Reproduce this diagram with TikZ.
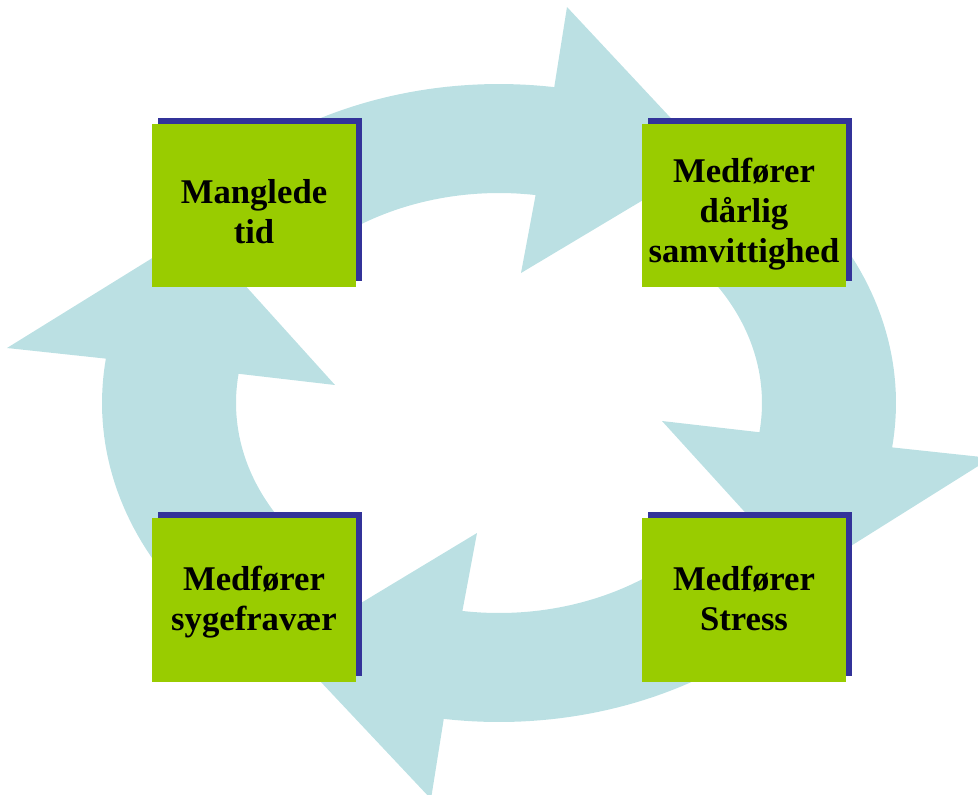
\documentclass[tikz,border=0pt]{standalone}
\usepackage{fontspec}
\setmainfont{Liberation Serif}
\usepackage{tikz}
\usetikzlibrary{shadows}
\definecolor{ringblue}{HTML}{BBE0E3}
\definecolor{boxgreen}{HTML}{99CC00}
\definecolor{boxshadow}{HTML}{333399}

\begin{document}
\begin{tikzpicture}[x=0.75pt,y=-0.75pt,
  stepbox/.style={fill=boxgreen,minimum width=153pt,minimum height=122.5pt,inner sep=0pt,
    general shadow={fill=boxshadow,shadow xshift=4.5pt,shadow yshift=4.5pt}},
  boxtext/.style={align=center,inner sep=0pt,font=\fontsize{26}{30}\selectfont\bfseries,
    execute at begin node=\strut,execute at end node=\strut}]
\useasboundingbox (0,0) rectangle (978,794);
\clip (0,0) rectangle (978,794);
% ring of arrows, clockwise
\fill[ringblue] plot[domain=223:278,samples=40]({499+397*cos(\x)},{403+319*sin(\x)})
  -- (567,7) -- (710,160) -- (521,273)
  -- plot[domain=278:223,samples=40]({499+263*cos(\x)},{403+210*sin(\x)}) -- cycle;
\fill[ringblue] plot[domain=313:368,samples=40]({499+397*cos(\x)},{403+319*sin(\x)})
  -- (991,458) -- (803,576) -- (662,421)
  -- plot[domain=368:313,samples=40]({499+263*cos(\x)},{403+210*sin(\x)}) -- cycle;
\fill[ringblue] plot[domain=43:98,samples=40]({499+397*cos(\x)},{403+319*sin(\x)})
  -- (431,799) -- (288,647) -- (477,533)
  -- plot[domain=98:43,samples=40]({499+263*cos(\x)},{403+210*sin(\x)}) -- cycle;
\fill[ringblue] plot[domain=133:188,samples=40]({499+397*cos(\x)},{403+319*sin(\x)})
  -- (7,348) -- (196,231) -- (335,385)
  -- plot[domain=188:133,samples=40]({499+263*cos(\x)},{403+210*sin(\x)}) -- cycle;
% boxes
\node[stepbox,label={[boxtext,yshift=-9pt]center:Manglede\\tid}] (tid) at (254,205.5) {};
\node[stepbox,label={[boxtext,yshift=-7.8pt]center:Medfører\\dårlig\\samvittighed}] (samvit) at (744,205.5) {};
\node[stepbox,label={[boxtext,yshift=-3pt]center:Medfører\\Stress}] (stress) at (744,600) {};
\node[stepbox,label={[boxtext,yshift=-3pt]center:Medfører\\sygefravær}] (fravaer) at (254,600) {};
\end{tikzpicture}
\end{document}
